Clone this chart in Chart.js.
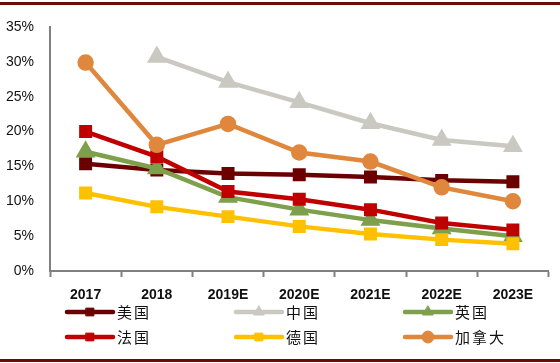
<!DOCTYPE html>
<html>
<head>
<meta charset="utf-8">
<script src="https://cdn.jsdelivr.net/npm/chart.js@4.4.1/dist/chart.umd.min.js"></script>
<style>
  html, body { margin: 0; padding: 0; background: #fff; }
  #wrap { width: 560px; height: 363px; }
</style>
</head>
<body>
<div id="wrap"><canvas id="chartId" width="560" height="363"></canvas></div>
<script>
var years = ["2017", "2018", "2019E", "2020E", "2021E", "2022E", "2023E"];
var usa     = [15.4, 14.5, 14.0, 13.8, 13.5, 13.0, 12.8];
var china   = [null, 30.7, 27.1, 24.2, 21.2, 18.8, 17.9];
var uk      = [17.1, 14.7, 10.6, 8.8, 7.3, 6.1, 5.0];
var france  = [20.0, 16.4, 11.4, 10.3, 8.8, 6.9, 5.9];
var germany = [11.2, 9.2, 7.8, 6.4, 5.3, 4.5, 3.9];
var canada  = [29.9, 18.1, 21.1, 17.0, 15.7, 12.0, 10.0];

function series(label, data, color, style, r, order) {
    return {
        label: label,
        data: data,
        borderColor: color,
        backgroundColor: color,
        pointBackgroundColor: color,
        pointBorderColor: color,
        borderWidth: 4.5,
        pointStyle: style,
        pointRadius: r,
        pointHoverRadius: r,
        order: order,
        tension: 0
    };
}

// later series drawn on top, like the original
var sets = [
    series("美国", usa, "#6B0000", "rect", 6, 5),
    series("中国", china, "#C9C9C1", "triangle", 7, 4),
    series("英国", uk, "#7E9F4C", "triangle", 7, 3),
    series("法国", france, "#C00000", "rect", 6, 2),
    series("德国", germany, "#FFC000", "rect", 6, 1),
    series("加拿大", canada, "#E0873E", "circle", 6, 0)
];

// legend drawn by hand: line + marker, then label
var legendPlugin = {
    id: 'legendLines',
    afterDraw: function (chart) {
        var c = chart.ctx;
        var cols = [67, 236, 405];
        var rows = [312, 337];
        c.save();
        // frame lines top/bottom
        c.fillStyle = '#6B0A0A';
        c.fillRect(0, 2, 560, 3);
        c.fillRect(0, 359, 560, 3);
        sets.forEach(function (ds, i) {
            var x = cols[i % 3], y = rows[Math.floor(i / 3)];
            c.strokeStyle = ds.borderColor;
            c.lineWidth = 4.5;
            c.lineCap = 'round';
            c.beginPath();
            c.moveTo(x, y);
            c.lineTo(x + 46, y);
            c.stroke();
            c.fillStyle = ds.borderColor;
            c.lineWidth = 1;
            Chart.helpers.drawPoint(c, {
                pointStyle: ds.pointStyle,
                radius: ds.pointStyle === 'rect' ? 5.5 : 6,
                rotation: 0,
                borderWidth: 1
            }, x + 23, y);
            c.fillStyle = '#111';
            c.font = '15px "Noto Sans CJK SC"';
            c.textBaseline = 'middle';
            c.textAlign = 'left';
            var chars = ds.label.split('');
            chars.forEach(function (ch, k) {
                c.fillText(ch, x + 50 + k * 17, y);
            });
        });
        c.restore();
    }
};

var chrt = document.getElementById("chartId").getContext("2d");
var chartId = new Chart(chrt, {
    type: 'line',
    data: { labels: years, datasets: sets },
    plugins: [legendPlugin],
    options: {
        responsive: false,
        animation: false,
        layout: { padding: { top: 27, right: 6, left: 0, bottom: 0 } },
        plugins: {
            legend: { display: false },
            tooltip: { enabled: false }
        },
        scales: {
            x: {
                offset: true,
                afterFit: function (s) { s.height = 92; },
                grid: {
                    offset: true,
                    drawOnChartArea: false,
                    tickLength: 6,
                    tickWidth: 2,
                    tickColor: '#808080'
                },
                border: { color: '#808080', width: 2 },
                ticks: {
                    padding: 10,
                    color: '#111',
                    maxRotation: 0,
                    font: { family: 'Liberation Sans', size: 14, weight: 'bold' }
                }
            },
            y: {
                min: 0,
                max: 35,
                afterFit: function (s) { s.width = 50; },
                grid: { drawOnChartArea: false, drawTicks: false },
                border: { color: '#808080', width: 2 },
                ticks: {
                    stepSize: 5,
                    padding: 16,
                    color: '#111',
                    font: { family: 'Liberation Sans', size: 14 },
                    callback: function (v) { return v + '%'; }
                }
            }
        }
    }
});
</script>
</body>
</html>
